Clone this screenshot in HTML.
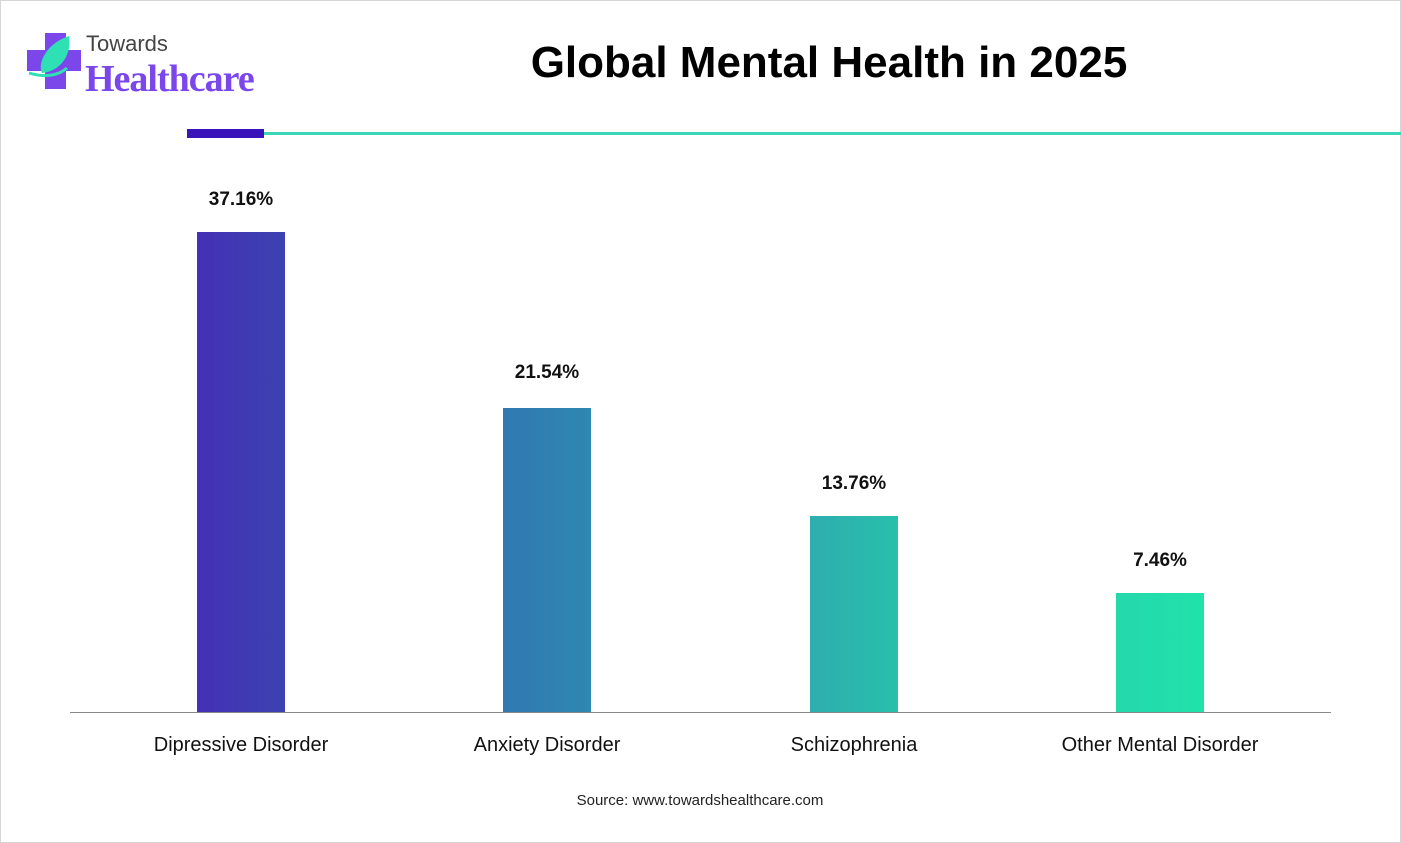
<!DOCTYPE html>
<html><head><style>
body{margin:0;width:1401px;height:843px;background:#fff;position:relative;font-family:"Liberation Sans",sans-serif;overflow:hidden}
.b{position:absolute;width:88px}
.v{position:absolute;width:200px;text-align:center;font-weight:bold;font-size:19px;color:#111}
.c{position:absolute;width:300px;text-align:center;font-size:20px;color:#111}
</style></head><body>
<div style="position:absolute;left:0;top:0;width:1399px;height:841px;border:1px solid #d6d6d6"></div>
<svg style="position:absolute;left:27px;top:33px" width="55" height="57">
<rect x="0" y="17" width="54" height="21" fill="#7b47ea"/><rect x="18" y="0" width="21" height="56" fill="#7b47ea"/>
<path d="M42 3 C20 10 10 30 15 40 C35 38 45 20 42 3Z" fill="#2fe0b5"/>
<path d="M2 40 C15 44 30 44 40 35" stroke="#2fe0b5" stroke-width="3" fill="none"/>
</svg>
<div style="position:absolute;left:86px;top:31px;font-size:22px;color:#444">Towards</div>
<div style="position:absolute;left:85px;top:57px;font-size:38px;font-weight:bold;color:#7b47ea;font-family:'Liberation Serif',serif;letter-spacing:-1px">Healthcare</div>
<div style="position:absolute;left:429px;top:38px;width:800px;text-align:center;font-size:44px;font-weight:bold;color:#000">Global Mental Health in 2025</div>
<div style="position:absolute;left:187px;top:129px;width:77px;height:9px;background:#3a14b8"></div>
<div style="position:absolute;left:264px;top:132px;width:1137px;height:3px;background:#3ad6b8"></div>
<div class="b" style="left:197px;top:232px;height:481px;background:linear-gradient(90deg,#4430b5,#3c42b0)"></div>
<div class="b" style="left:503px;top:408px;height:305px;background:linear-gradient(90deg,#3178b3,#2e88b0)"></div>
<div class="b" style="left:810px;top:516px;height:197px;background:linear-gradient(90deg,#2eaeae,#28bfac)"></div>
<div class="b" style="left:1116px;top:593px;height:120px;background:linear-gradient(90deg,#25d8ac,#20e2aa)"></div>
<div style="position:absolute;left:70px;top:712px;width:1261px;height:1px;background:#888"></div>
<div class="v" style="left:141px;top:189px">37.16%</div>
<div class="v" style="left:447px;top:362px">21.54%</div>
<div class="v" style="left:754px;top:473px">13.76%</div>
<div class="v" style="left:1060px;top:550px">7.46%</div>
<div class="c" style="left:91px;top:734px">Dipressive Disorder</div>
<div class="c" style="left:397px;top:734px">Anxiety Disorder</div>
<div class="c" style="left:704px;top:734px">Schizophrenia</div>
<div class="c" style="left:1010px;top:734px">Other Mental Disorder</div>
<div style="position:absolute;left:500px;top:792px;width:400px;text-align:center;font-size:15px;color:#222">Source: www.towardshealthcare.com</div>
</body></html>
